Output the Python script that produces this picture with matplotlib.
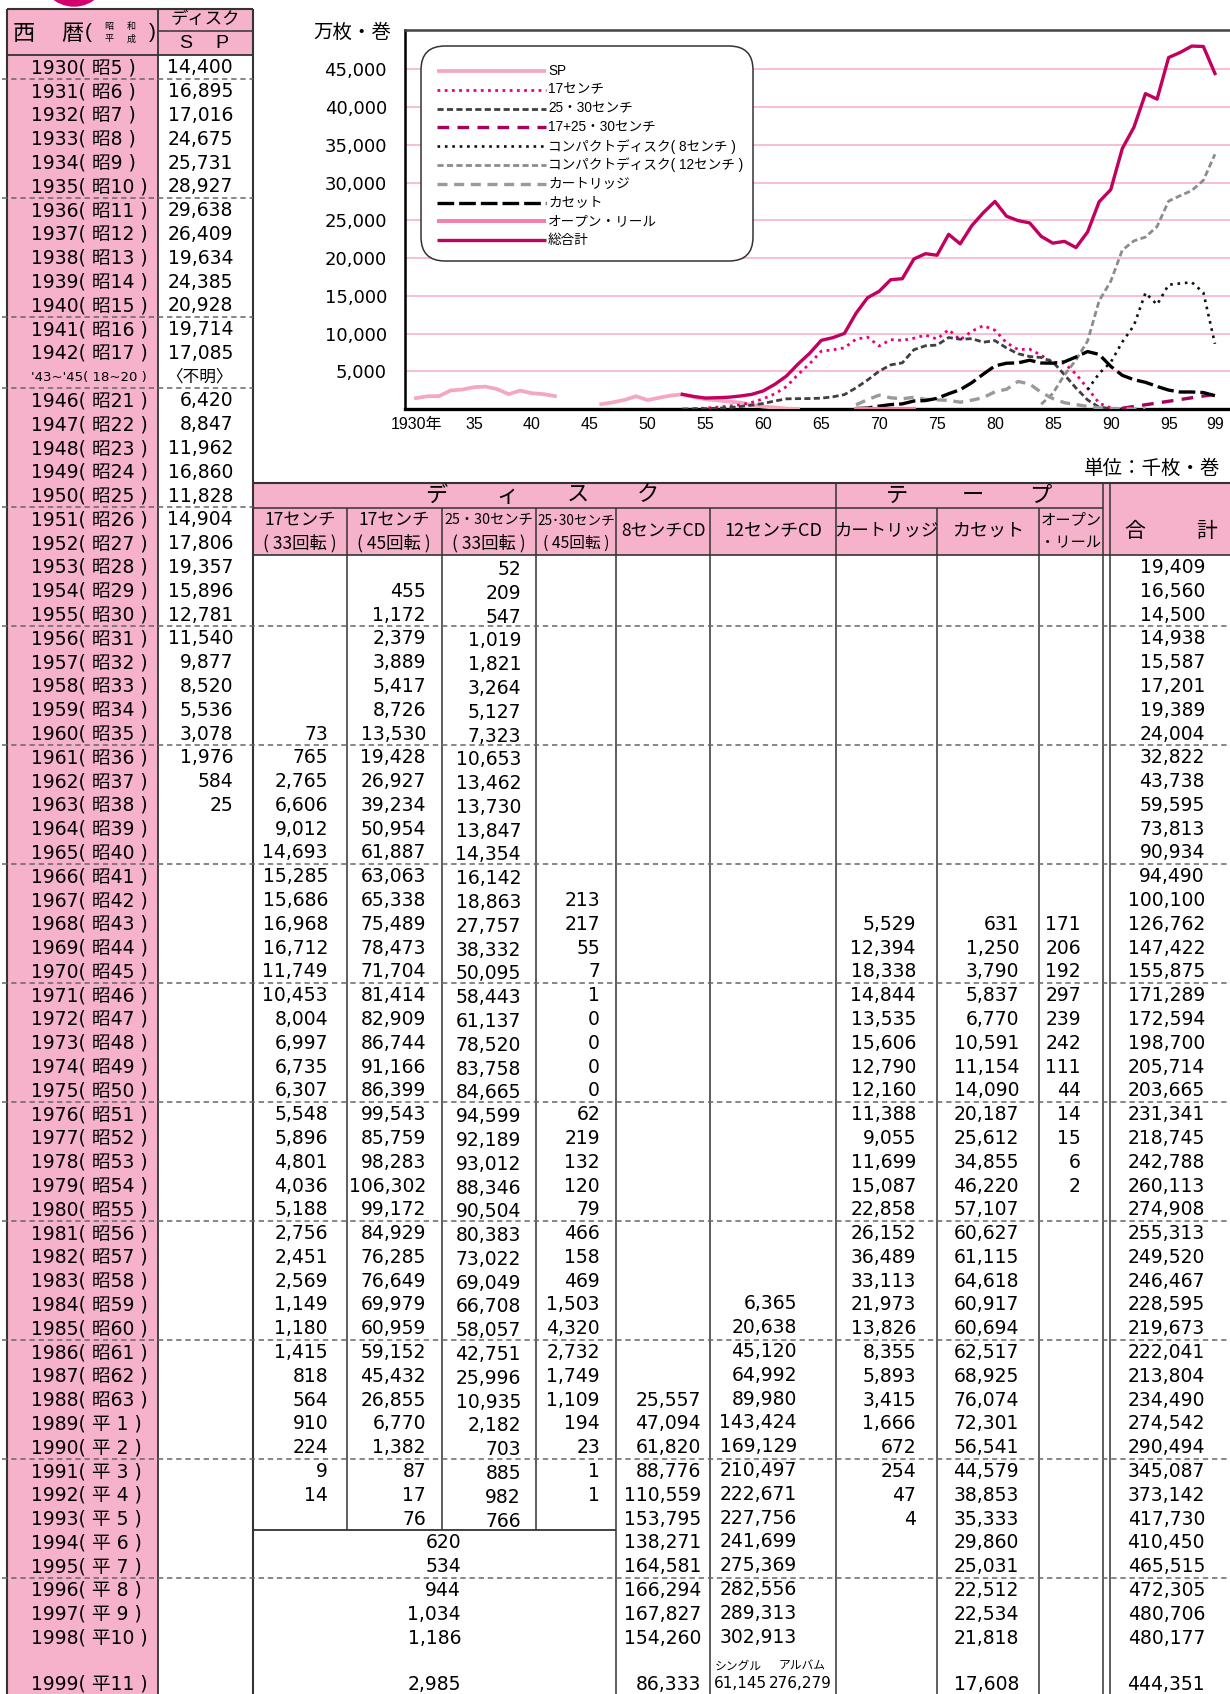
import matplotlib
matplotlib.use('Agg')
import matplotlib.pyplot as plt
from matplotlib.patches import Rectangle, FancyBboxPatch, Circle
import numpy as np

# ---------------- data (thousand units, from the table) ----------------
sp_years = list(range(1930, 1943)) + list(range(1946, 1964))
sp_vals = [14400, 16895, 17016, 24675, 25731, 28927, 29638, 26409, 19634, 24385,
           20928, 19714, 17085,
           6420, 8847, 11962, 16860, 11828, 14904, 17806, 19357, 15896, 12781,
           11540, 9877, 8520, 5536, 3078, 1976, 584, 25]

tab_years = list(range(1953, 2000))
N = None
c17_33 = [N, N, N, N, N, N, N, 73, 765, 2765, 6606, 9012, 14693, 15285, 15686, 16968,
          16712, 11749, 10453, 8004, 6997, 6735, 6307, 5548, 5896, 4801, 4036, 5188,
          2756, 2451, 2569, 1149, 1180, 1415, 818, 564, 910, 224, 9, 14, N,
          N, N, N, N, N, N]
c17_45 = [N, 455, 1172, 2379, 3889, 5417, 8726, 13530, 19428, 26927, 39234, 50954,
          61887, 63063, 65338, 75489, 78473, 71704, 81414, 82909, 86744, 91166, 86399,
          99543, 85759, 98283, 106302, 99172, 84929, 76285, 76649, 69979, 60959, 59152,
          45432, 26855, 6770, 1382, 87, 17, 76, N, N, N, N, N, N]
c2530_33 = [52, 209, 547, 1019, 1821, 3264, 5127, 7323, 10653, 13462, 13730, 13847,
            14354, 16142, 18863, 27757, 38332, 50095, 58443, 61137, 78520, 83758, 84665,
            94599, 92189, 93012, 88346, 90504, 80383, 73022, 69049, 66708, 58057, 42751,
            25996, 10935, 2182, 703, 885, 982, 766, N, N, N, N, N, N]
c2530_45 = [N] * 14 + [213, 217, 55, 7, 1, 0, 0, 0, 0, 62, 219, 132, 120, 79, 466, 158,
                       469, 1503, 4320, 2732, 1749, 1109, 194, 23, 1, 1, N,
                       N, N, N, N, N, N]
merged_years = [1994, 1995, 1996, 1997, 1998, 1999]
merged_vals = [620, 534, 944, 1034, 1186, 2985]
cd8 = [N] * 35 + [25557, 47094, 61820, 88776, 110559, 153795, 138271, 164581, 166294,
                  167827, 154260, 86333]
cd12 = [N] * 31 + [6365, 20638, 45120, 64992, 89980, 143424, 169129, 210497, 222671,
                   227756, 241699, 275369, 282556, 289313, 302913, N]
cd12_1999_single = 61145
cd12_1999_album = 276279
cart = [N] * 15 + [5529, 12394, 18338, 14844, 13535, 15606, 12790, 12160, 11388, 9055,
                   11699, 15087, 22858, 26152, 36489, 33113, 21973, 13826, 8355, 5893,
                   3415, 1666, 672, 254, 47, 4, N, N, N, N, N, N]
cass = [N] * 15 + [631, 1250, 3790, 5837, 6770, 10591, 11154, 14090, 20187, 25612,
                   34855, 46220, 57107, 60627, 61115, 64618, 60917, 60694, 62517, 68925,
                   76074, 72301, 56541, 44579, 38853, 35333, 29860, 25031, 22512, 22534,
                   21818, 17608]
reel = [N] * 15 + [171, 206, 192, 297, 239, 242, 111, 44, 14, 15, 6, 2] + [N] * 20
total = [19409, 16560, 14500, 14938, 15587, 17201, 19389, 24004, 32822, 43738, 59595,
         73813, 90934, 94490, 100100, 126762, 147422, 155875, 171289, 172594, 198700,
         205714, 203665, 231341, 218745, 242788, 260113, 274908, 255313, 249520, 246467,
         228595, 219673, 222041, 213804, 234490, 274542, 290494, 345087, 373142, 417730,
         410450, 465515, 472305, 480706, 480177, 444351]
# 17+25・30 line as drawn in the chart (万枚)
mix_years = [1991, 1999]
mix_chart = [100, 1950]

x_ticks = [1930, 1935, 1940, 1945, 1950, 1955, 1960, 1965, 1970, 1975, 1980, 1985, 1990, 1995, 1999]
x_labels = ['1930年', '35', '40', '45', '50', '55', '60', '65', '70', '75', '80', '85', '90', '95', '99']
y_ticks = [5000, 10000, 15000, 20000, 25000, 30000, 35000, 40000, 45000]

# ---------------- helpers ----------------
W, H = 1230, 1694
NUM = ['DejaVu Sans', 'Noto Sans CJK JP']
LAT = ['Liberation Sans', 'Noto Sans CJK JP']
JP = ['Noto Sans CJK JP', 'DejaVu Sans']
plt.rcParams['font.family'] = NUM

PINK_BG = '#F6B1CB'
LINEC = '#333333'
DASHC = '#666666'


def arr(lst):
    return np.array([np.nan if v is None else v for v in lst], dtype=float)


def add2(a, b):
    s = np.where(np.isnan(a), 0, a) + np.where(np.isnan(b), 0, b)
    s[np.isnan(a) & np.isnan(b)] = np.nan
    return s


fig = plt.figure(figsize=(W / 100, H / 100), dpi=100)
tb = fig.add_axes([0, 0, 1, 1])
tb.set_xlim(0, W)
tb.set_ylim(H, 0)
tb.axis('off')

Y0 = 55.0
RH = 23.79


def rtop(i):
    return Y0 + RH * i


def rcen(i):
    if i == 67:
        return 1684
    return Y0 + RH * (i + 0.5) + 1


def ridx(year):
    if year <= 1942:
        return year - 1930
    return year - 1932


def hl(y, x0, x1, lw=1.1, color=LINEC, ls='-'):
    tb.plot([x0, x1], [y, y], color=color, lw=lw, ls=ls, solid_capstyle='butt')


def vl(x, y0, y1, lw=1.1, color=LINEC):
    tb.plot([x, x], [y0, y1], color=color, lw=lw, solid_capstyle='butt')


def T(x, y, s, size=13.5, ha='center', fam=NUM, **kw):
    tb.text(x, y, s, fontsize=size, ha=ha, va='center', family=fam, **kw)


# magenta circle piece at top
tb.add_patch(Circle((74, -28), 34, color='#D4006E', clip_on=True))

# ---------------- backgrounds ----------------
tb.add_patch(Rectangle((7, 9), 151, H - 9, color=PINK_BG, lw=0))
tb.add_patch(Rectangle((158, 9), 95, 46, color=PINK_BG, lw=0))
tb.add_patch(Rectangle((253, 483), W - 253, 72, color=PINK_BG, lw=0))

# ---------------- left table lines ----------------
vl(7, 9, H, lw=1.5)
vl(158, 9, H, lw=1.3)
vl(253, 9, H, lw=1.5)
hl(9, 7, 253, lw=1.5)
hl(31, 158, 253, lw=1.1)
hl(55, 7, 253, lw=1.3)

# ---------------- right table lines ----------------
merge_top = rtop(ridx(1994))
hl(483, 253, W, lw=1.5)
hl(508, 253, 1103)
hl(555, 253, W, lw=1.2)
vl(836, 483, H)
vl(1103, 483, H)
vl(1110, 483, H)
for x in (347, 442, 536):
    vl(x, 508, merge_top)
for x in (616, 710, 937, 1039):
    vl(x, 508, H)
hl(merge_top, 253, 616, lw=1.3)

# dashed separators
dash_rows = [0, 5, 10, 13] + [ridx(y) for y in range(1950, 1996, 5)]
for i in dash_rows:
    yb = rtop(i + 1)
    x1 = 253 if i <= 20 else W
    hl(yb, 2, x1, lw=1.1, color=DASHC, ls=(0, (3.5, 2.5)))

# ---------------- left table header ----------------
T(24, 33, '西', size=16, fam=JP)
T(72, 33, '暦', size=16, fam=JP)
T(88, 32, '(', size=15, fam=LAT)
T(109, 26, '昭', size=6.5, fam=JP)
T(131, 26, '和', size=6.5, fam=JP)
T(109, 39, '平', size=6.5, fam=JP)
T(131, 39, '成', size=6.5, fam=JP)
T(152, 32, ')', size=15, fam=LAT)
T(205, 19, 'ディスク', size=12.5, fam=JP)
T(186, 43, 'S', size=14, fam=LAT)
T(222, 43, 'P', size=14, fam=LAT)

# ---------------- left table body ----------------
row_years = list(range(1930, 1943)) + [None] + list(range(1946, 2000))
sp_map = dict(zip(sp_years, sp_vals))
for i, y in enumerate(row_years):
    yc = rcen(i)
    if y is None:
        T(31, yc, "'43~'45( 18~20 )", size=9.5, ha='left')
        T(233, yc, '〈不明〉', size=12, ha='right', fam=JP)
        continue
    if y <= 1988:
        lab = f'{y}( 昭{y - 1925} )'
    else:
        n = y - 1988
        lab = f'{y}( 平 {n} )' if n < 10 else f'{y}( 平{n} )'
    T(31, yc, lab, size=13.5, ha='left')
    if y in sp_map:
        T(233, yc, f'{sp_map[y]:,}', size=13.5, ha='right')

# ---------------- right table header ----------------
for x, ch in zip((436, 507, 578, 648), ('デ', 'ィ', 'ス', 'ク')):
    T(x, 495, ch, size=16, fam=JP)
for x, ch in zip((897, 973, 1040), ('テ', 'ー', 'プ')):
    T(x, 495, ch, size=16, fam=JP)
T(1135, 531, '合', size=15, fam=JP)
T(1207, 531, '計', size=15, fam=JP)
T(300, 520, '17センチ', size=12.5, fam=JP)
T(300, 543, '( 33回転 )', size=12.5, fam=JP)
T(394, 520, '17センチ', size=12.5, fam=JP)
T(394, 543, '( 45回転 )', size=12.5, fam=JP)
T(489, 520, '25・30センチ', size=10.3, fam=JP)
T(489, 543, '( 33回転 )', size=12.5, fam=JP)
T(576, 520, '25･30センチ', size=9.8, fam=JP)
T(576, 543, '( 45回転 )', size=11.3, fam=JP)
T(663, 531, '8センチCD', size=12.5, fam=JP)
T(773, 531, '12センチCD', size=13, fam=JP)
T(886, 531, 'カートリッジ', size=12.5, fam=JP)
T(988, 531, 'カセット', size=13, fam=JP)
T(1071, 520, 'オープン', size=11, fam=JP)
T(1071, 543, '・リール', size=11, fam=JP)
T(1084, 468, '単位：千枚・巻', size=14, ha='left', fam=JP)

# ---------------- right table body ----------------
cols = [(c17_33, 328, 0), (c17_45, 426, 0), (c2530_33, 521, 2), (c2530_45, 600, 0),
        (cd8, 701, 0), (cd12, 797, -1), (cart, 916, 0), (cass, 1019, 0),
        (reel, 1081, 0), (total, 1205, 0)]
for vals, xr, dy in cols:
    for y, v in zip(tab_years, vals):
        if v is None:
            continue
        T(xr, rcen(ridx(y)) + dy, f'{v:,}', size=13.5, ha='right')
for y, v in zip(merged_years, merged_vals):
    T(461, rcen(ridx(y)), f'{v:,}', size=13.5, ha='right')
T(738, 1666, 'シングル', size=8.5, fam=JP)
T(802, 1666, 'アルバム', size=8.5, fam=JP)
T(740, 1684, f'{cd12_1999_single:,}', size=11)
T(800, 1684, f'{cd12_1999_album:,}', size=11)

# ---------------- chart ----------------
ch = fig.add_axes([405 / W, 1 - 409 / H, (W - 405) / W, (409 - 30) / H])
ch.set_xlim(1929.05, 2000.3)
ch.set_ylim(0, 50200)
ch.set_axisbelow(True)
ch.yaxis.grid(True, color='#F6B4CB', lw=1.2)
ch.set_yticks(y_ticks)
ch.set_yticklabels([f'{v:,}' for v in y_ticks], fontsize=13, family=NUM)
ch.set_xticks(x_ticks)
ch.set_xticklabels(x_labels, fontsize=11.5, family=LAT)
ch.tick_params(axis='y', length=0, pad=13)
ch.tick_params(axis='x', length=0, pad=6)
for s in ('left', 'bottom'):
    ch.spines[s].set_color('black')
ch.spines['left'].set_linewidth(1.8)
ch.spines['bottom'].set_linewidth(2.4)
ch.spines['top'].set_color('#444444')
ch.spines['top'].set_linewidth(1.8)
ch.spines['right'].set_visible(False)

ty = np.array(tab_years, dtype=float)
styles = {
    'SP': dict(color='#F4A7C2', lw=2.7, ls='-'),
    '17センチ': dict(color='#E8007F', lw=2.0, ls=(0, (1, 1.6))),
    '25・30センチ': dict(color='#404040', lw=2.0, ls=(0, (2.2, 1.2))),
    '17+25・30センチ': dict(color='#A8005C', lw=2.4, ls=(0, (3.5, 2.5))),
    'コンパクトディスク( 8センチ )': dict(color='#111111', lw=1.9, ls=(0, (1, 1.8))),
    'コンパクトディスク( 12センチ )': dict(color='#8C8C8C', lw=2.0, ls=(0, (2.2, 1.2))),
    'カートリッジ': dict(color='#9A9A9A', lw=2.4, ls=(0, (3, 2))),
    'カセット': dict(color='#000000', lw=2.4, ls=(0, (5, 1.5))),
    'オープン・リール': dict(color='#F27EA9', lw=2.8, ls='-'),
    '総合計': dict(color='#C2005E', lw=2.4, ls='-'),
}

# SP with a break for 1943-45
spx = np.array(sp_years[:13] + [1943] + sp_years[13:], dtype=float)
spv = np.array(sp_vals[:13] + [np.nan] + sp_vals[13:], dtype=float) / 10
ch.plot(spx, spv, **styles['SP'], zorder=3)

s17 = add2(arr(c17_33), arr(c17_45)) / 10
m = ty <= 1991
ch.plot(ty[m], s17[m], **styles['17センチ'], zorder=4)
s25 = add2(arr(c2530_33), arr(c2530_45)) / 10
ch.plot(ty[m], s25[m], **styles['25・30センチ'], zorder=4)
ch.plot(mix_years, mix_chart, **styles['17+25・30センチ'], zorder=4)
ch.plot(ty, arr(cd8) / 10, **styles['コンパクトディスク( 8センチ )'], zorder=4)
cd12_chart = arr(cd12)
cd12_chart[-1] = cd12_1999_single + cd12_1999_album
ch.plot(ty, cd12_chart / 10, **styles['コンパクトディスク( 12センチ )'], zorder=4)
ch.plot(ty, arr(cart) / 10, **styles['カートリッジ'], zorder=4)
ch.plot(ty, arr(cass) / 10, **styles['カセット'], zorder=4)
mr = ty <= 1973
ch.plot(ty[mr], (arr(reel) / 10)[mr], **styles['オープン・リール'], zorder=4)
ch.plot(ty, arr(total) / 10, **styles['総合計'], zorder=5)

# y unit label
T(391, 32, '万枚・巻', size=14, ha='right', fam=JP)

# ---------------- legend (manual, on top) ----------------
lg = fig.add_axes([0, 0, 1, 1], zorder=10)
lg.set_xlim(0, W)
lg.set_ylim(H, 0)
lg.axis('off')
lg.add_patch(FancyBboxPatch((421, 46), 332, 215,
                            boxstyle='round,pad=0,rounding_size=24',
                            fc='white', ec='#333333', lw=1.1))
for k, (name, st) in enumerate(styles.items()):
    yy = 71 + 18.8 * k
    lg.plot([437, 546], [yy, yy], **st, solid_capstyle='butt', dash_capstyle='butt')
    lg.text(548, yy, name, fontsize=9.8, ha='left', va='center', family=LAT)

fig.savefig('out.png', dpi=100)
